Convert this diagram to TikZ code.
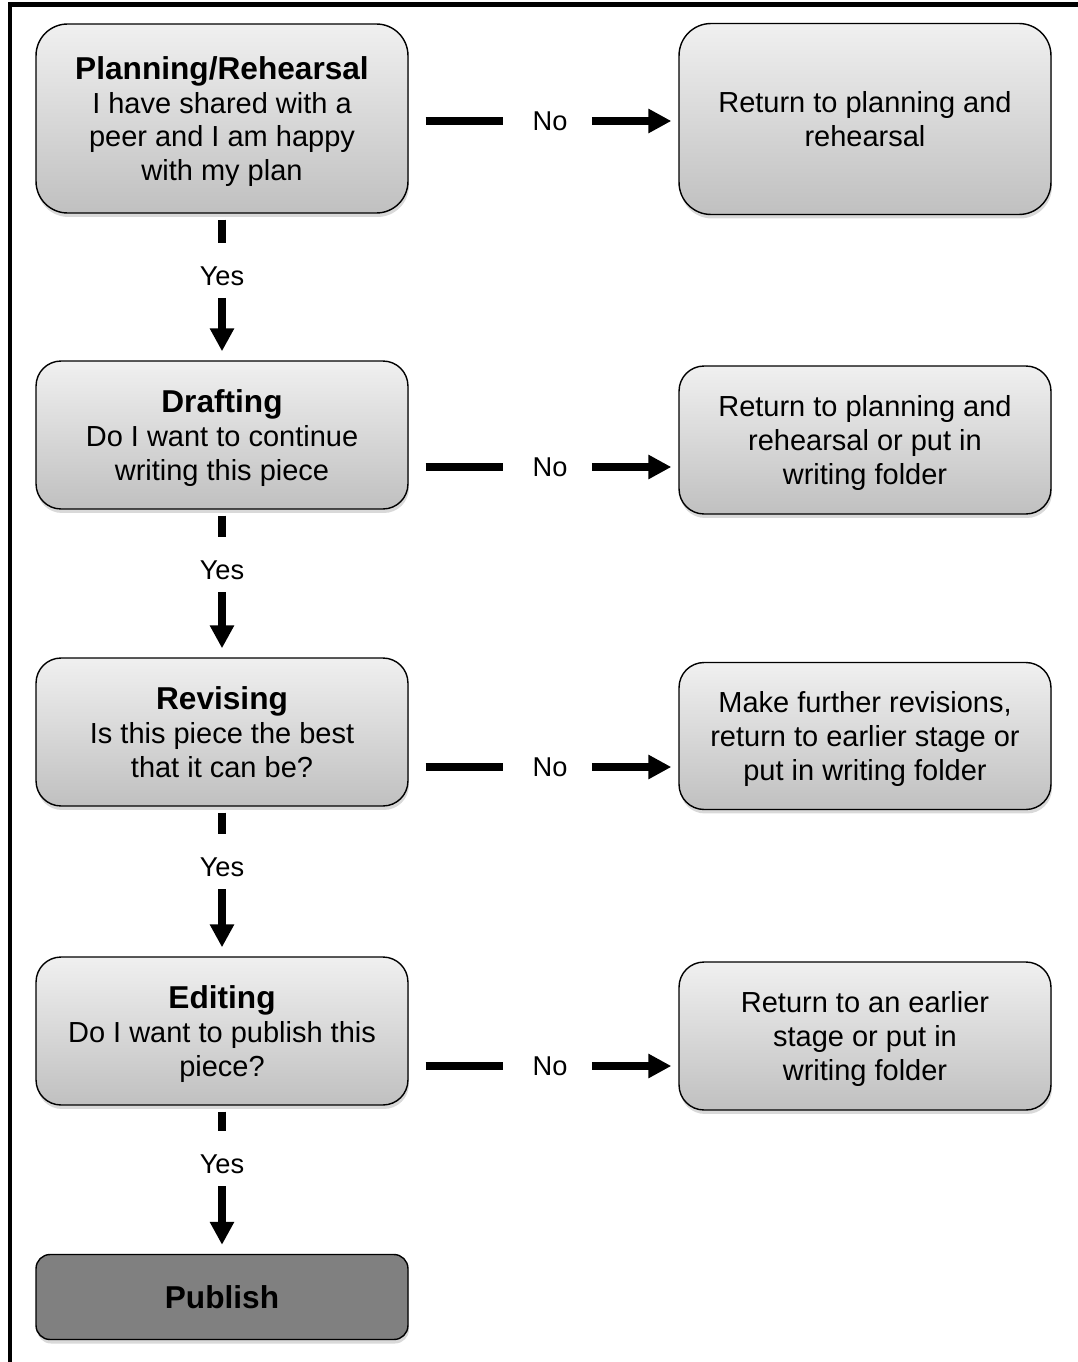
\documentclass[tikz,border=0pt]{standalone}
\usepackage{fontspec}
\setmainfont{Liberation Sans}
\usetikzlibrary{arrows.meta}
\usetikzlibrary{shadows}
\definecolor{color_box_top}{HTML}{F0F0F0}
\definecolor{color_box_bottom}{HTML}{C0C0C0}
\definecolor{color_publish}{HTML}{808080}
\definecolor{color_flow}{HTML}{000000}
\def\flowlinewidth{0.17cm}
\def\boxwidth{7.44cm}
\def\bodysize{\fontsize{16.5}{19.1}\selectfont}
\def\titlesize{\fontsize{18}{19.1}\selectfont\bfseries}
\def\labelsize{\fontsize{15.5}{18}\selectfont}
\tikzset{
    stagebox/.style={draw=black, line width=0.8pt, top color=color_box_top, bottom color=color_box_bottom,
        minimum width=\boxwidth, align=center, font=\bodysize, text depth=0pt,
        drop shadow={shadow xshift=0.02cm, shadow yshift=-0.08cm, opacity=0.3}},
    publishbox/.style={draw=black, line width=0.8pt, fill=color_publish, rounded corners=0.28cm,
        minimum width=\boxwidth, minimum height=1.7cm, font=\titlesize,
        drop shadow={shadow xshift=0.02cm, shadow yshift=-0.08cm, opacity=0.3}},
    flowlabel/.style={font=\labelsize, inner sep=0pt},
    flowline/.style={color_flow, line width=\flowlinewidth},
    flowarrow/.style={flowline, -{Triangle[length=0.46cm, width=0.46cm]}}
}

\begin{document}
\begin{tikzpicture}[x=0.02cm, y=-0.02cm]
        \useasboundingbox (0,0) rectangle (1078,1362);
        % frame (top and left edge only)
        \draw[line width=0.1cm] (10,1362) -- (10,5) -- (1078,5);
        % stages
        \node[stagebox, minimum height=3.78cm, rounded corners=0.63cm] (p1) at (222,118.5)
            {{\titlesize Planning/Rehearsal}\\I have shared with a\\peer and I am happy\\with my plan};
        \node[stagebox, minimum height=2.96cm, rounded corners=0.5cm] (p2) at (222,435)
            {{\titlesize Drafting}\\Do I want to continue\\writing this piece};
        \node[stagebox, minimum height=2.96cm, rounded corners=0.5cm] (p3) at (222,732)
            {{\titlesize Revising}\\Is this piece the best\\that it can be?};
        \node[stagebox, minimum height=2.96cm, rounded corners=0.5cm] (p4) at (222,1031)
            {{\titlesize Editing}\\Do I want to publish this\\piece?};
        \node[publishbox] (pub) at (222,1297) {Publish};
        % way back
        \node[stagebox, minimum height=3.82cm, rounded corners=0.64cm] (r1) at (865,119)
            {Return to planning and\\rehearsal};
        \node[stagebox, minimum height=2.96cm, rounded corners=0.5cm] (r2) at (865,440)
            {Return to planning and\\rehearsal or put in\\writing folder};
        \node[stagebox, minimum height=2.94cm, rounded corners=0.5cm] (r3) at (865,736)
            {Make further revisions,\\return to earlier stage or\\put in writing folder};
        \node[stagebox, minimum height=2.96cm, rounded corners=0.5cm] (r4) at (865,1036)
            {Return to an earlier\\stage or put in\\writing folder};
        % labels
        \node[flowlabel] (no1) at (550,121) {No};
        \node[flowlabel] (no2) at (550,467) {No};
        \node[flowlabel] (no3) at (550,767) {No};
        \node[flowlabel] (no4) at (550,1066) {No};
        \node[flowlabel] (yes1) at (222,276) {Yes};
        \node[flowlabel] (yes2) at (222,570) {Yes};
        \node[flowlabel] (yes3) at (222,867) {Yes};
        \node[flowlabel] (yes4) at (222,1164) {Yes};
        % yes connectors
        \foreach \a/\y/\b in {p1/yes1/p2, p2/yes2/p3, p3/yes3/p4, p4/yes4/pub} {
            \draw[flowline, shorten <=0.12cm, shorten >=0.66cm] (\a.south) -- (\y.center);
            \draw[flowarrow, shorten <=0.44cm, shorten >=0.18cm] (\y.center) -- (\b.north);
        }
        % no connectors
        \foreach \n in {1,2,3,4} {
            \draw[flowline, shorten <=0.34cm, shorten >=0.94cm] (p\n.east |- no\n.center) -- (no\n.center);
            \draw[flowarrow, shorten <=0.84cm, shorten >=0.14cm] (no\n.center) -- (r\n.west |- no\n.center);
        }
    \end{tikzpicture}
\end{document}
